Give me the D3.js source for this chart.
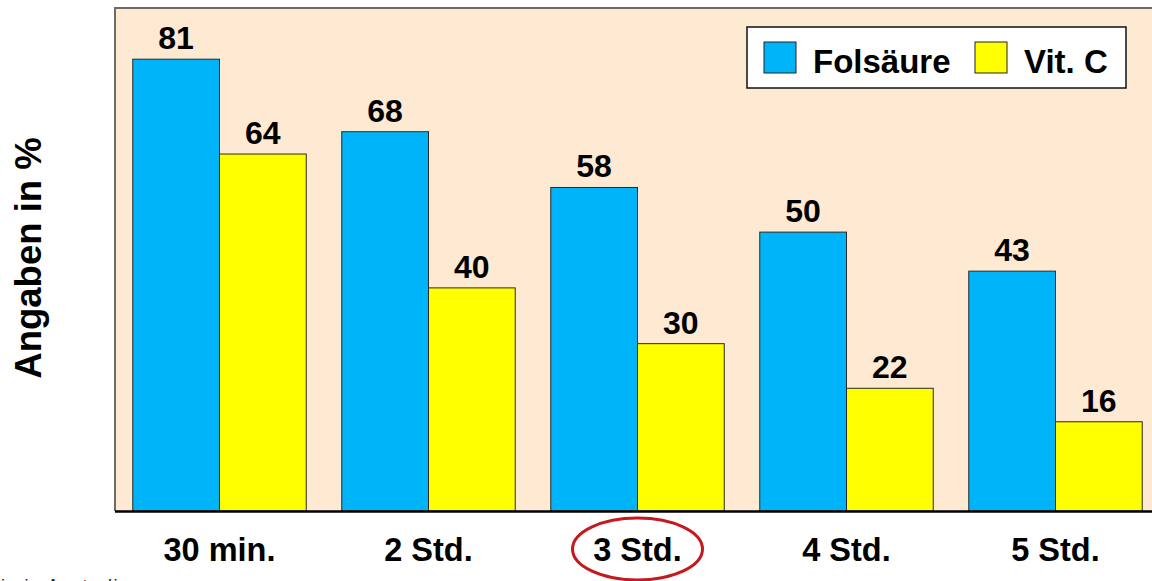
<!DOCTYPE html>
<html>
<head>
<meta charset="utf-8">
<script src="https://cdn.jsdelivr.net/npm/d3@7"></script>
<style>
    body { margin: 0; background: #fff; }
    svg { display: block; font-family: 'Liberation Sans', Arial, sans-serif; }
</style>
</head>
<body>
<div id="chart"></div>
<script>
const categories = ['30 min.', '2 Std.', '3 Std.', '4 Std.', '5 Std.'];
const seriesNames = ['Folsäure', 'Vit. C'];
const folsaeure = [81, 68, 58, 50, 43];
const vitC = [64, 40, 30, 22, 16];
const highlighted = '3 Std.';
const yTitle = 'Angaben in %';
const footnote = 'Studie in Australien';

const colors = ['#00b4fa', '#ffff00'];

const width = 1152;
const height = 581;
const plot = { left: 115, right: 1160, top: 8, bottom: 511 };

const rows = categories.map((c, i) => ({ cat: c, values: [folsaeure[i], vitC[i]] }));

const svg = d3
    .select('#chart')
    .append('svg')
    .attr('width', width)
    .attr('height', height)
    .attr('viewBox', `0 0 ${width} ${height}`);

// plot background
svg.append('rect')
    .attr('x', plot.left)
    .attr('y', plot.top)
    .attr('width', plot.right - plot.left)
    .attr('height', plot.bottom - plot.top)
    .attr('fill', '#fee9d2');

svg.append('path')
    .attr('d', `M${plot.left},${plot.bottom} V${plot.top} H${plot.right}`)
    .attr('fill', 'none')
    .attr('stroke', '#6e6a66')
    .attr('stroke-width', 2);

const x0 = d3.scaleBand()
    .domain(categories)
    .range([plot.left, plot.right])
    .paddingInner(0.17)
    .paddingOuter(0.085);

const x1 = d3.scaleBand()
    .domain(seriesNames)
    .range([0, x0.bandwidth()]);

const y = d3.scaleLinear().domain([0, 90]).range([plot.bottom, 9]);

const groups = svg.append('g')
    .selectAll('g')
    .data(rows)
    .join('g')
    .attr('transform', (d) => `translate(${x0(d.cat)},0)`);

groups.selectAll('rect')
    .data((d) => d.values.map((v, i) => ({ name: seriesNames[i], value: v, i })))
    .join('rect')
    .attr('x', (d) => x1(d.name))
    .attr('y', (d) => y(d.value))
    .attr('width', x1.bandwidth())
    .attr('height', (d) => y(0) - y(d.value))
    .attr('fill', (d) => colors[d.i])
    .attr('stroke', '#2a2a2a')
    .attr('stroke-width', 1);

groups.selectAll('text')
    .data((d) => d.values.map((v, i) => ({ name: seriesNames[i], value: v })))
    .join('text')
    .attr('x', (d) => x1(d.name) + x1.bandwidth() / 2)
    .attr('y', (d) => y(d.value) - 10)
    .attr('text-anchor', 'middle')
    .attr('font-size', 32)
    .attr('font-weight', 'bold')
    .attr('fill', '#000')
    .text((d) => d.value);

// x axis
const xAxis = svg.append('g')
    .attr('transform', `translate(0, ${plot.bottom})`)
    .call(d3.axisBottom(x0).tickSize(0).tickPadding(50));
xAxis.select('.domain')
    .attr('d', `M${plot.left},0.5 H${plot.right}`)
    .attr('stroke', '#000')
    .attr('stroke-width', 2.5);
xAxis.selectAll('text')
    .attr('font-family', "'Liberation Sans', Arial, sans-serif")
    .attr('font-size', 32.5)
    .attr('font-weight', 'bold')
    .attr('fill', '#000')
    .attr('dy', 0);

// highlight ring
svg.append('ellipse')
    .attr('cx', x0(highlighted) + x0.bandwidth() / 2)
    .attr('cy', 549)
    .attr('rx', 65)
    .attr('ry', 31)
    .attr('fill', 'none')
    .attr('stroke', '#c41a1f')
    .attr('stroke-width', 3);

// y title
svg.append('text')
    .attr('transform', `translate(41, 258) rotate(-90)`)
    .attr('text-anchor', 'middle')
    .attr('font-size', 36.5)
    .attr('font-weight', 'bold')
    .attr('fill', '#000')
    .text(yTitle);

// legend
const legend = svg.append('g').attr('transform', 'translate(747, 27)');
legend.append('rect')
    .attr('width', 379)
    .attr('height', 61)
    .attr('fill', '#fff')
    .attr('stroke', '#111')
    .attr('stroke-width', 1.5);

const legendX = [17, 228];
seriesNames.forEach((name, i) => {
    legend.append('rect')
        .attr('x', legendX[i])
        .attr('y', 15)
        .attr('width', 32)
        .attr('height', 31)
        .attr('fill', colors[i])
        .attr('stroke', '#222')
        .attr('stroke-width', 1);
    legend.append('text')
        .attr('x', legendX[i] + 49)
        .attr('y', 46)
        .attr('font-size', 33)
        .attr('font-weight', 'bold')
        .attr('fill', '#000')
        .text(name);
});

// footnote (cut off at the bottom edge, as in the source)
svg.append('text')
    .attr('x', -42)
    .attr('y', 592)
    .attr('font-size', 18)
    .attr('letter-spacing', 1.5)
    .attr('fill', '#222')
    .text(footnote);
</script>
</body>
</html>
